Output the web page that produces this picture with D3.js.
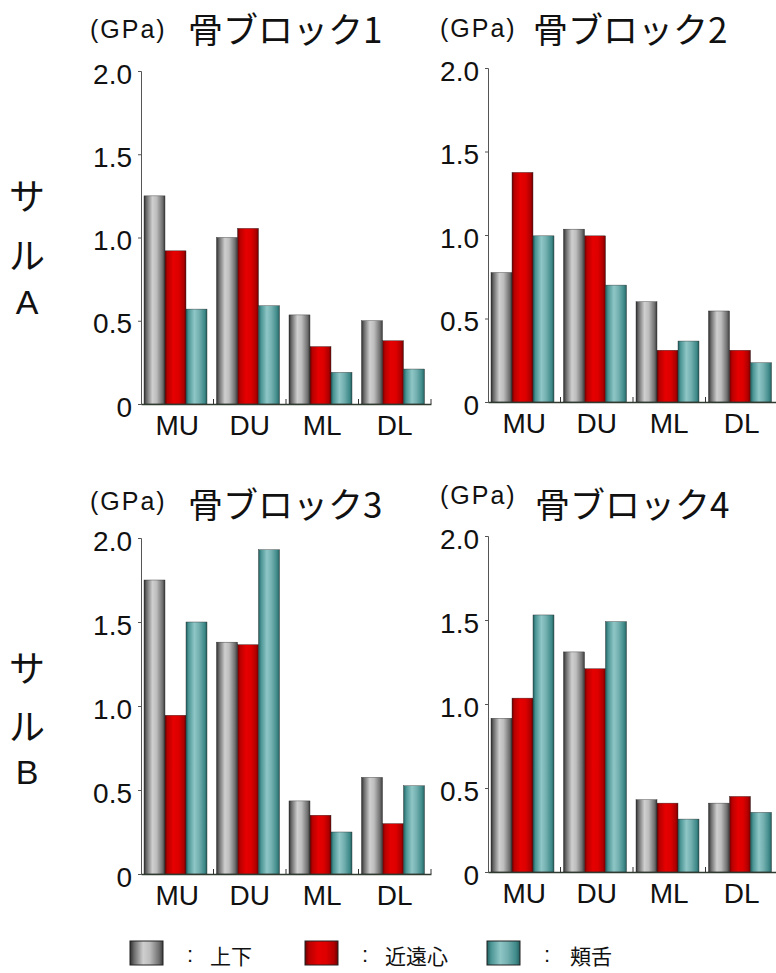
<!DOCTYPE html>
<html><head><meta charset="utf-8">
<script src="https://cdn.jsdelivr.net/npm/d3@7"></script>
<style>body{margin:0;background:#fff}svg{display:block}</style>
</head><body>
<svg id="c" width="776" height="973"></svg>
<script>
// ---- data ----
const categories = ["MU", "DU", "ML", "DL"];
const seriesNames = ["上下", "近遠心", "頬舌"];
const yTicks = [0, 0.5, 1.0, 1.5, 2.0];
const yTickLabels = ["0", "0.5", "1.0", "1.5", "2.0"];
const blockTitles = ["骨ブロック1", "骨ブロック2", "骨ブロック3", "骨ブロック4"];
const unitLabel = "(GPa)";
const rowLabels = [["サ", "ル", "A"], ["サ", "ル", "B"]];

const block1Vertical = [1.25, 1.00, 0.535, 0.50];
const block1Mesiodistal = [0.92, 1.055, 0.345, 0.38];
const block1Buccolingual = [0.57, 0.59, 0.19, 0.21];

const block2Vertical = [0.775, 1.035, 0.60, 0.545];
const block2Mesiodistal = [1.375, 0.995, 0.31, 0.31];
const block2Buccolingual = [0.995, 0.70, 0.365, 0.235];

const block3Vertical = [1.75, 1.38, 0.435, 0.575];
const block3Mesiodistal = [0.945, 1.365, 0.35, 0.30];
const block3Buccolingual = [1.50, 1.93, 0.25, 0.525];

const block4Vertical = [0.915, 1.31, 0.43, 0.41];
const block4Mesiodistal = [1.035, 1.21, 0.41, 0.45];
const block4Buccolingual = [1.53, 1.49, 0.315, 0.355];

const blocks = [
  [block1Vertical, block1Mesiodistal, block1Buccolingual],
  [block2Vertical, block2Mesiodistal, block2Buccolingual],
  [block3Vertical, block3Mesiodistal, block3Buccolingual],
  [block4Vertical, block4Mesiodistal, block4Buccolingual]
];

// ---- layout ----
const panels = [
  {x0: 141, x1: 431, y0: 404, y1: 71, tx: 90, ty: 38, bx: 188, by: 43},
  {x0: 488, x1: 778, y0: 402, y1: 68, tx: 440, ty: 37, bx: 533, by: 43},
  {x0: 141, x1: 431, y0: 874, y1: 538, tx: 90, ty: 510, bx: 188, by: 518},
  {x0: 488, x1: 778, y0: 872, y1: 536, tx: 440, ty: 504, bx: 535, by: 518}
];
const latin = "'Liberation Sans', Arial, sans-serif";
const cjk = "'Noto Sans CJK JP', sans-serif";

const svg = d3.select("#c");
const defs = svg.append("defs");
const grads = [
  {id: "g0", stops: [["0%", "#2e2e2e"], ["12%", "#6a6a6a"], ["40%", "#cfcfcf"], ["60%", "#bdbdbd"], ["88%", "#707070"], ["100%", "#3a3a3a"]]},
  {id: "g1", stops: [["0%", "#6a0000"], ["12%", "#b80000"], ["40%", "#e60000"], ["65%", "#dd0000"], ["88%", "#b00000"], ["100%", "#700000"]]},
  {id: "g2", stops: [["0%", "#1f5e5e"], ["12%", "#4a9494"], ["40%", "#8fc6c6"], ["62%", "#74b0b0"], ["88%", "#3f8a8a"], ["100%", "#255f5f"]]}
];
grads.forEach(g => {
  const lg = defs.append("linearGradient").attr("id", g.id).attr("x1", "0").attr("x2", "1").attr("y1", "0").attr("y2", "0");
  g.stops.forEach(s => lg.append("stop").attr("offset", s[0]).attr("stop-color", s[1]));
});

panels.forEach((p, i) => {
  const g = svg.append("g");
  const x = d3.scaleBand().domain(categories).range([p.x0, p.x1]);
  const xs = d3.scaleBand().domain(seriesNames).range([3, 66]);
  const y = d3.scaleLinear().domain([0, 2]).range([p.y0, p.y1]);

  // bars
  blocks[i].forEach((vals, si) => {
    g.selectAll(null).data(vals).enter().append("rect")
      .attr("x", (d, ci) => x(categories[ci]) + xs(seriesNames[si]))
      .attr("y", d => y(d))
      .attr("width", xs.bandwidth())
      .attr("height", d => y(0) - y(d))
      .attr("fill", `url(#g${si})`)
      .attr("stroke", "#2a2a2a").attr("stroke-width", 0.4);
  });

  // y axis
  const ya = g.append("g").attr("transform", `translate(${p.x0},0)`)
    .call(d3.axisLeft(y).tickValues(yTicks).tickSize(3).tickFormat((d, k) => yTickLabels[k]));
  ya.select(".domain").attr("stroke", "#555").attr("stroke-width", 1);
  ya.selectAll(".tick line").attr("stroke", "#555");
  ya.selectAll(".tick text").attr("font-family", latin).attr("font-size", 28)
    .attr("fill", "#111").attr("x", -9).attr("dy", "0.43em");

  // x axis
  const xa = g.append("g").attr("transform", `translate(0,${p.y0})`)
    .call(d3.axisBottom(x).tickSize(0).tickPadding(0));
  xa.select(".domain").attr("stroke", "#2f3b2f").attr("stroke-width", 1.6);
  xa.selectAll(".tick text").attr("font-family", latin).attr("font-size", 28)
    .attr("fill", "#111").attr("dy", 0).attr("y", 31);
  // boundary ticks
  g.selectAll(null).data(categories).enter().append("line")
    .attr("x1", d => x(d) + x.bandwidth()).attr("x2", d => x(d) + x.bandwidth())
    .attr("y1", p.y0).attr("y2", p.y0 - 5)
    .attr("stroke", "#333").attr("stroke-width", 1);

  // titles
  g.append("text").attr("x", p.tx).attr("y", p.ty).text(unitLabel)
    .attr("font-family", latin).attr("font-size", 25).attr("letter-spacing", 2).attr("fill", "#111");
  g.append("text").attr("x", p.bx).attr("y", p.by).text(blockTitles[i])
    .attr("font-family", cjk).attr("font-size", 35).attr("fill", "#111");
});

// row labels
const rowY = [[194, 253, 302], [666, 724, 772]];
rowLabels.forEach((chars, r) => {
  chars.forEach((c, k) => {
    svg.append("text").attr("x", 27).attr("y", rowY[r][k]).text(c)
      .attr("text-anchor", "middle").attr("dominant-baseline", "central")
      .attr("font-family", k === 2 ? latin : cjk).attr("font-size", k === 2 ? 34 : 36)
      .attr("fill", "#111");
  });
});

// legend
const legX = [130, 305, 487];
const lg = svg.append("g");
seriesNames.forEach((s, i) => {
  lg.append("rect").attr("x", legX[i]).attr("y", 941).attr("width", 33).attr("height", 24)
    .attr("fill", `url(#g${i})`).attr("stroke", "#222").attr("stroke-width", 1);
  lg.append("text").attr("x", legX[i] + 57).attr("y", 962).text(":")
    .attr("font-family", latin).attr("font-size", 22).attr("fill", "#111");
  lg.append("text").attr("x", legX[i] + 80 + (i === 2 ? 3 : 0)).attr("y", 964).text(s)
    .attr("font-family", cjk).attr("font-size", 21).attr("fill", "#111");
});
</script>
</body></html>
